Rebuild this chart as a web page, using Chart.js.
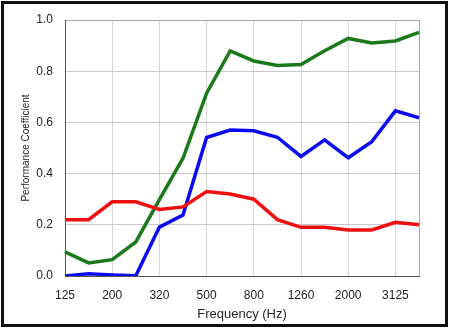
<!DOCTYPE html>
<html>
<head>
<meta charset="utf-8">
<script src="https://cdn.jsdelivr.net/npm/chart.js@4"></script>
<style>
  html, body { margin: 0; padding: 0; background: #fff; }
  #wrap { width: 450px; height: 329px; position: relative; }
</style>
</head>
<body>
<div id="wrap"><canvas id="chart" width="450" height="329"></canvas></div>
<script>
// 1/3 octave bands (Hz)
const bandas = ['125','160','200','250','320','400','500','630','800','1000','1260','1600','2000','2500','3125','4000'];
const serieVerde = [0.094,0.051,0.064,0.133,0.298,0.46,0.714,0.879,0.84,0.822,0.826,0.88,0.928,0.91,0.918,0.952];
const serieAzul  = [0.0,0.009,0.004,0.001,0.191,0.238,0.541,0.57,0.567,0.542,0.467,0.532,0.462,0.525,0.645,0.618];
const serieRoja  = [0.22,0.22,0.29,0.29,0.26,0.27,0.33,0.32,0.30,0.22,0.19,0.19,0.18,0.18,0.21,0.20];

// marco negro alrededor de todo
const marco = {
  id: 'marco',
  beforeDraw(c) {
    const g = c.ctx;
    g.save();
    g.fillStyle = '#fff';
    g.fillRect(0, 0, c.width, c.height);
    g.restore();
  },
  afterDraw(c) {
    const g = c.ctx;
    g.save();
    g.strokeStyle = '#111';
    g.lineWidth = 3;
    g.strokeRect(2.5, 2.5, 444, 323);
    g.restore();
  }
};

const linea = (datos, color) => ({
  data: datos, borderColor: color, borderWidth: 3.5,
  pointRadius: 0, tension: 0, fill: false
});

new Chart(document.getElementById('chart'), {
  type: 'line',
  data: {
    labels: bandas,
    datasets: [
      linea(serieRoja, '#ee1010'),
      linea(serieAzul, '#0b0bef'),
      linea(serieVerde, '#1a7a1a')
    ]
  },
  options: {
    responsive: false,
    animation: false,
    layout: { padding: { left: 16, right: 31, top: 20, bottom: 3 } },
    plugins: { legend: { display: false }, tooltip: { enabled: false } },
    scales: {
      x: {
        afterFit: s => { s.height = 50; },
        grid: {
          drawTicks: false,
          color: ctx => (ctx.index === bandas.length - 1) ? '#a8a8a8' : (ctx.index % 2 === 0 ? '#d8d8d8' : 'rgba(0,0,0,0)'),
          lineWidth: 1
        },
        border: { color: '#555', width: 1 },
        ticks: {
          autoSkip: false, maxRotation: 0, padding: 12,
          color: '#222', font: { family: 'Liberation Sans, Arial', size: 12 },
          callback: (v, i) => i % 2 === 0 ? bandas[i] : ''
        },
        title: {
          display: true, text: 'Frequency (Hz)', color: '#222',
          font: { family: 'Liberation Sans, Arial', size: 13 },
          padding: { top: 0, bottom: 4 }
        }
      },
      y: {
        min: 0, max: 1,
        afterFit: s => { s.width = 49; },
        grid: {
          drawTicks: false,
          color: ctx => ctx.tick && ctx.tick.value === 1 ? '#a8a8a8' : '#c8c8c8'
        },
        border: { color: '#555', width: 1 },
        ticks: {
          stepSize: 0.2, padding: 12, color: '#222',
          font: { family: 'Liberation Sans, Arial', size: 12 },
          callback: v => v.toFixed(1)
        },
        title: {
          display: true, text: 'Performance Coefficient', color: '#222',
          font: { family: 'Liberation Sans, Arial', size: 10 },
          padding: { top: 4, bottom: 4 }
        }
      }
    }
  },
  plugins: [marco]
});
</script>
</body>
</html>
